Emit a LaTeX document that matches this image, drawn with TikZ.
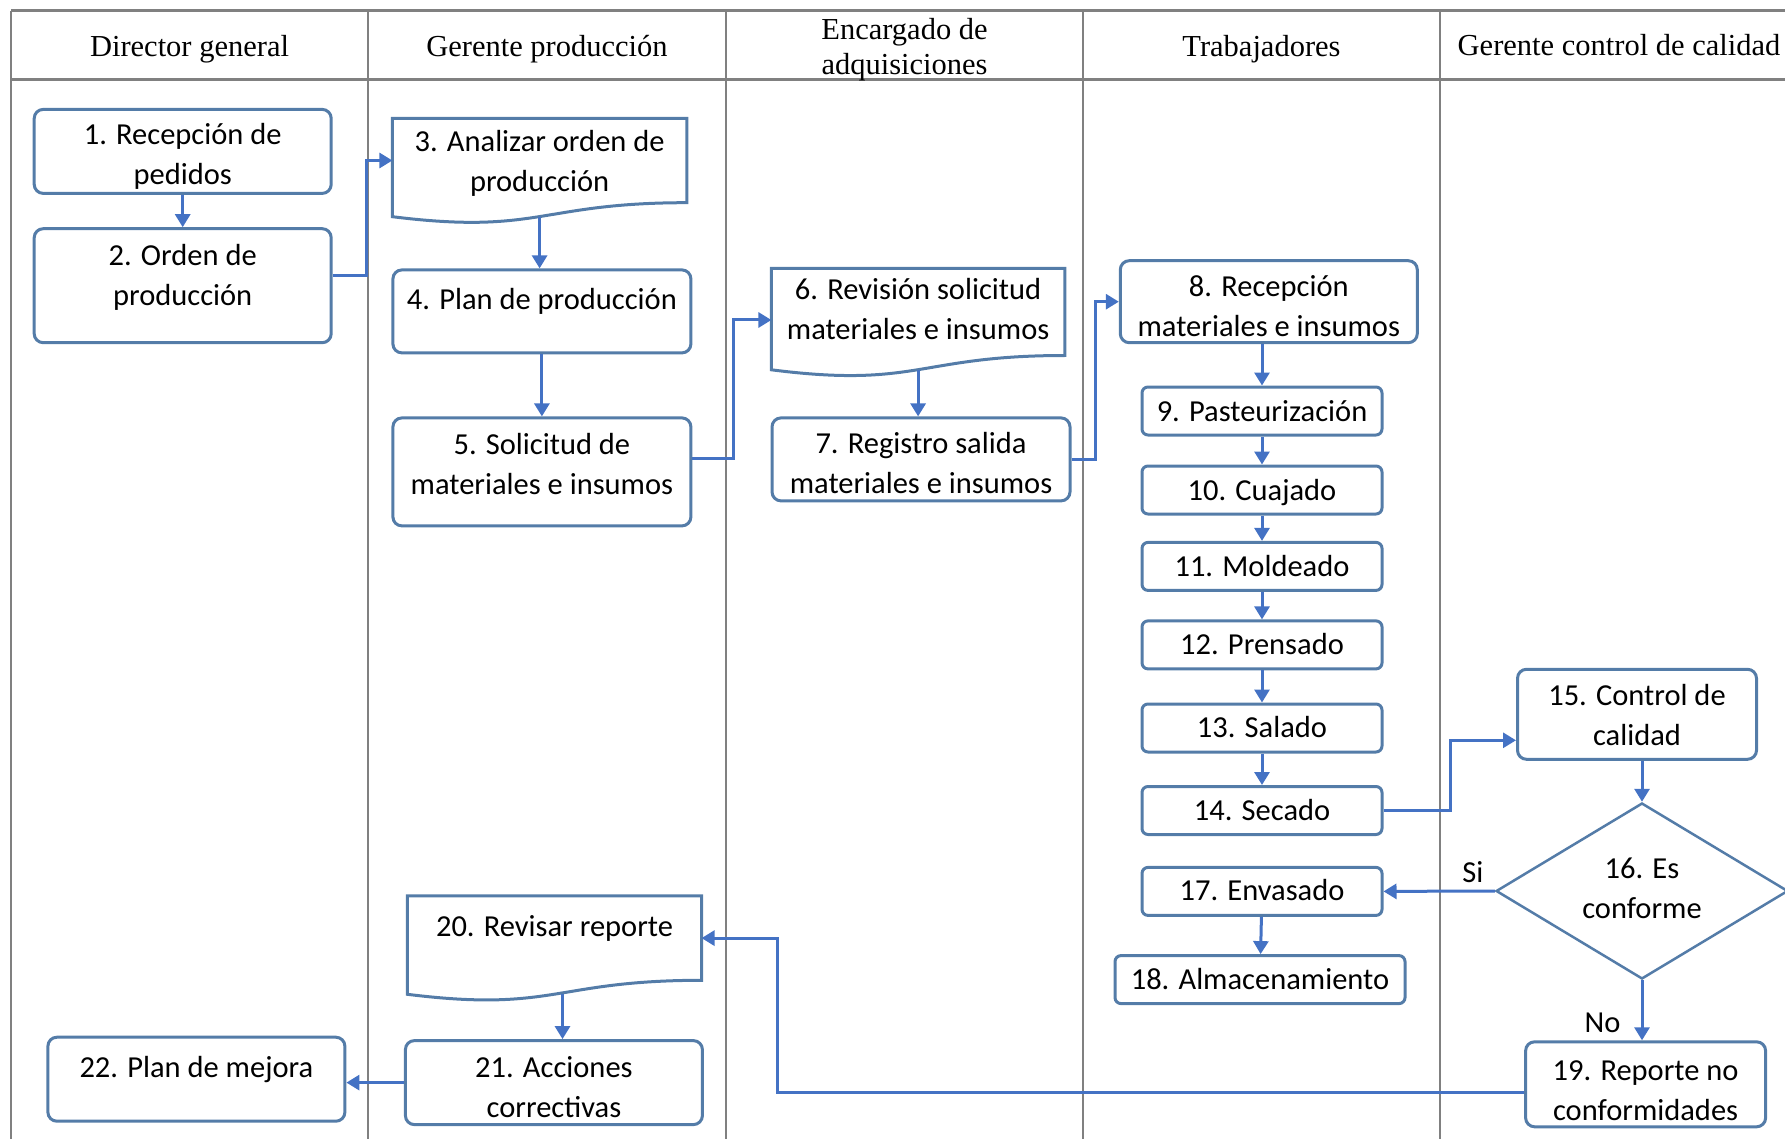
\documentclass[tikz,border=0pt]{standalone}
\usepackage{fontspec}
\setmainfont{Carlito}
\newfontfamily\lanefont{Liberation Serif}
\usepackage{tikz}
\usetikzlibrary{arrows.meta}
\usetikzlibrary{shapes.geometric}
\usetikzlibrary{positioning}
\definecolor{boxblue}{RGB}{84,124,168}
\definecolor{flowblue}{RGB}{68,114,196}
\definecolor{lanegray}{RGB}{128,128,128}
\newcommand{\bxfont}{\fontsize{30.5pt}{40pt}\selectfont}
\newcommand{\hdfont}{\lanefont\fontsize{30.5pt}{35pt}\selectfont}
% box text set on struts, raised by #1 from the middle of the box
\newcommand{\liftup}[2]{\raisebox{#1}[0pt][0pt]{\begin{tabular}{@{}c@{}}#2\end{tabular}}}
% outline of a document box: node, depth of the wave
\newcommand{\docpath}[2]{\draw[doc] (#1.north west) -- (#1.north east) -- (#1.south east)
  .. controls (#1.south) and ([yshift={-2.31*#2pt}]#1.south) .. ([yshift=-#2pt]#1.south west) -- cycle;}
\tikzstyle{lane}=[draw=lanegray,line width=2pt]
\tikzstyle{headline}=[draw=lanegray,line width=3pt]
\tikzstyle{lanehead}=[font=\hdfont,align=center,inner sep=0pt]
\tikzstyle{proc}=[draw=boxblue,line width=3pt,rounded corners=9pt,fill=white,
                  align=center,font=\bxfont,inner sep=0pt,minimum width=297pt]
\tikzstyle{shortbox}=[proc,rounded corners=6pt,minimum width=240pt,minimum height=48pt]
\tikzstyle{docbox}=[align=center,font=\bxfont,inner sep=0pt,minimum width=294pt,
                    minimum height=84pt]
\tikzstyle{doc}=[draw=boxblue,line width=3pt]
\tikzstyle{choice}=[diamond,draw=boxblue,line width=2.5pt,fill=white,align=center,
                    font=\bxfont,inner sep=0pt,aspect=1.66,minimum width=292pt,
                    minimum height=176pt]
\tikzstyle{flowline}=[->,>={Triangle[length=13pt,width=15pt]},draw=flowblue,line width=3pt]
\tikzstyle{answer}=[font=\bxfont,inner sep=0pt]

\begin{document}
\begin{tikzpicture}[x=1pt,y=-1pt]
\useasboundingbox (0,0) rectangle (1785,1139);
% lanes
\draw[headline] (11,11) -- (1785,11);
\draw[headline] (11,80) -- (1785,80);
\foreach \x in {11,368,726,1083,1440}
  \draw[lane] (\x,11) -- (\x,1139);
\node[lanehead] (h1) at (189.5,49) {Director general};
\node[lanehead] (h2) at (547,49) {Gerente producción};
\node[lanehead] (h3) at (904.5,49.5) {Encargado de\\adquisiciones};
\node[lanehead] (h4) at (1261.5,49) {Trabajadores};
\node[lanehead] (h5) at (1619,45.5) {Gerente control de calidad};

% steps
\node[proc,minimum height=84pt] (n1) at (182.7,151.4) {\liftup{-11.5pt}{1. Recepción de\\pedidos}};
\node[proc,minimum height=114pt] (n2) at (182.7,285.7) {\liftup{2.2pt}{2. Orden de\\producción}};
\node[docbox] (n3) at (539.6,160.5) {\liftup{-9.3pt}{3. Analizar orden de\\producción}};
\docpath{n3}{14}
\node[proc,minimum width=298pt,minimum height=83pt] (n4) at (541.9,311.4) {\liftup{3.4pt}{4. Plan de producción}};
\node[proc,minimum width=298pt,minimum height=108pt] (n5) at (541.9,471.9) {\liftup{-0.6pt}{5. Solicitud de\\materiales e insumos}};
\node[docbox,minimum width=293pt,minimum height=86.6pt] (n6) at (918.1,312) {\liftup{-5.8pt}{6. Revisión solicitud\\materiales e insumos}};
\docpath{n6}{14.3}
\node[proc,minimum width=298pt,minimum height=83pt] (n7) at (921,459.4) {\liftup{-12pt}{7. Registro salida\\materiales e insumos}};
\node[proc,minimum height=82pt] (n8) at (1268.8,301.7) {\liftup{-12.6pt}{8. Recepción\\materiales e insumos}};
\node[shortbox] (n9) at (1262,411) {\liftup{-8.6pt}{9. Pasteurización}};
\node[shortbox] (n10) at (1262,490) {\liftup{-9.2pt}{10. Cuajado}};
\node[shortbox] (n11) at (1262,566.4) {\liftup{-8pt}{11. Moldeado}};
\node[shortbox] (n12) at (1262,644.9) {\liftup{-8pt}{12. Prensado}};
\node[shortbox] (n13) at (1262,728) {\liftup{-8pt}{13. Salado}};
\node[shortbox] (n14) at (1262,810.5) {\liftup{-8.6pt}{14. Secado}};
\node[proc,minimum width=239pt,minimum height=90pt] (n15) at (1637,714.3) {\liftup{-9.9pt}{15. Control de\\calidad}};
\node[choice] (n16) at (1642,891) {\liftup{-6.2pt}{16. Es\\conforme}};
\node[shortbox] (n17) at (1262,891.4) {\liftup{-7.4pt}{17. Envasado}};
\node[shortbox,minimum width=290pt] (n18) at (1260,979.6) {\liftup{-8pt}{18. Almacenamiento}};
\node[proc,minimum width=240pt,minimum height=85pt] (n19) at (1645.6,1084.3) {\liftup{-14.4pt}{19. Reporte no\\conformidades}};
\node[docbox,minimum width=293.7pt] (n20) at (554.5,938.1) {\liftup{3pt}{20. Revisar reporte}};
\docpath{n20}{14}
\node[proc,minimum height=84pt] (n21) at (553.9,1082.6) {\liftup{-12.7pt}{21. Acciones\\correctivas}};
\node[proc,minimum height=84pt] (n22) at (196.4,1079.2) {\liftup{3.9pt}{22. Plan de mejora}};

% flow
\draw[flowline] (n1) -- (n2);
\draw[flowline] ([yshift=10pt]n2.east) -- ++(34,0) |- (n3.west);
\draw[flowline] ([yshift=-14pt]n3.south) -- (n3.south |- n4.north);
\draw[flowline] (n4) -- (n5);
\draw[flowline] ([yshift=13pt]n5.east) -- ++(41,0) |- ([yshift=-8pt]n6.west);
\draw[flowline] ([yshift=-14pt]n6.south) -- (n6.south |- n7.north);
\draw[flowline] (n7.east) -- ++(23.5,0) |- (n8.west);
\draw[flowline] (n9.north |- n8.south) -- (n9.north);
\draw[flowline] (n9) -- (n10);
\draw[flowline] (n10) -- (n11);
\draw[flowline] (n11) -- (n12);
\draw[flowline] (n12) -- (n13);
\draw[flowline] (n13) -- (n14);
\draw[flowline] (n14.east) -- ++(67,0) |- ([yshift=-26pt]n15.west);
\draw[flowline] (n16.north |- n15.south) -- (n16.north);
\draw[flowline] (n16.west) -- node[answer,pos=0,above left=7pt and 10pt] {Si} (n17.east);
\draw[flowline] (n16.south) -- node[answer,pos=1,above left=6pt and 20pt] {No} (n16.south |- n19.north);
\draw[flowline] (n17) -- (n18);
\draw[flowline] ([yshift=-8.6pt]n19.west) -| ([xshift=76pt]n20.east) -- (n20.east);
\coordinate (w20) at ([xshift=8pt,yshift=-14pt]n20.south);
\draw[flowline] (w20) -- (w20 |- n21.north);
\draw[flowline] (n21.west) -- (n21.west -| n22.east);
\end{tikzpicture}
\end{document}
